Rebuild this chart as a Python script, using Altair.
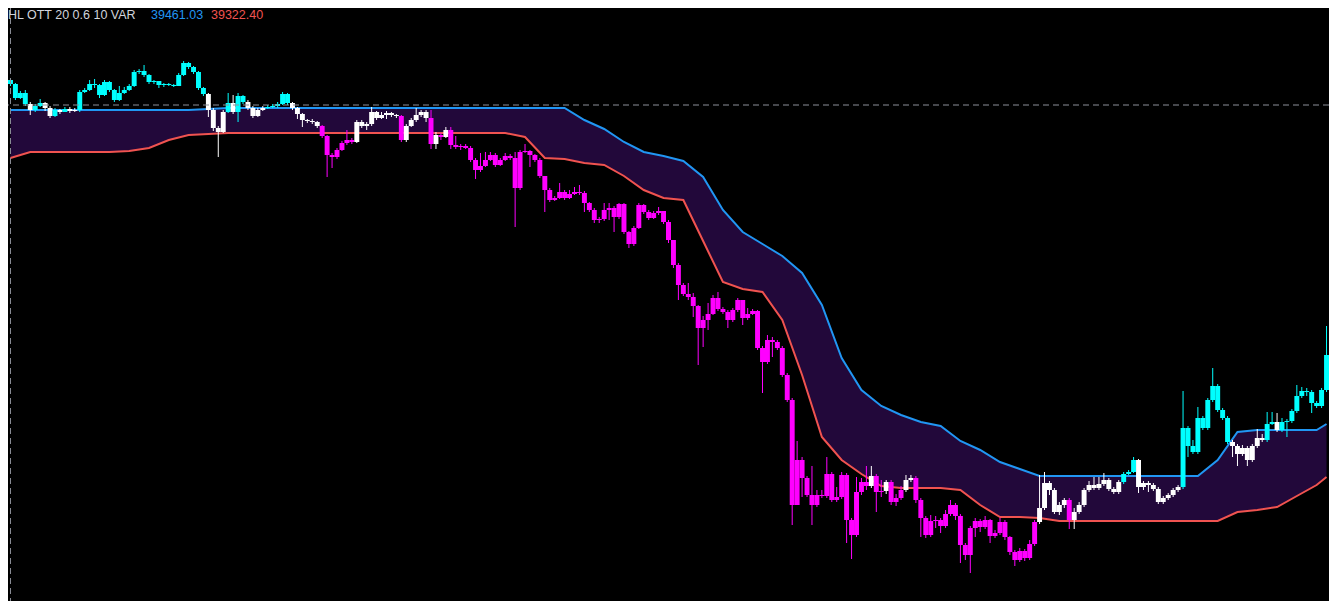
import altair as alt
import pandas as pd

TITLE = "HL OTT 20 0.6 10 VAR"
UPPER_LABEL = "39461.03"
LOWER_LABEL = "39322.40"

FIRST_OPEN = 39551

CLOSE = [
    39539, 39497, 39512, 39479, 39461, 39473, 39482, 39467, 39443, 39461,
    39455, 39464, 39458, 39461, 39515, 39521, 39539, 39536, 39506, 39545,
    39521, 39491, 39512, 39521, 39533, 39575, 39578, 39566, 39545, 39548,
    39536, 39539, 39536, 39533, 39566, 39602, 39590, 39575, 39527, 39509,
    39461, 39407, 39395, 39455, 39482, 39455, 39503, 39485, 39467, 39443,
    39461, 39467, 39470, 39473, 39479, 39509, 39482, 39467, 39449, 39431,
    39428, 39425, 39413, 39383, 39326, 39320, 39341, 39362, 39371, 39365,
    39425, 39413, 39419, 39455, 39437, 39446, 39452, 39446, 39443, 39371,
    39413, 39431, 39446, 39455, 39437, 39359, 39386, 39380, 39401, 39356,
    39350, 39353, 39347, 39311, 39281, 39293, 39311, 39326, 39296, 39311,
    39323, 39317, 39227, 39335, 39338, 39326, 39311, 39263, 39221, 39191,
    39197, 39215, 39197, 39209, 39215, 39212, 39182, 39161, 39131, 39134,
    39161, 39167, 39140, 39179, 39095, 39059, 39107, 39176, 39155, 39137,
    39152, 39158, 39125, 39071, 38996, 38936, 38909, 38900, 38873, 38807,
    38831, 38849, 38897, 38864, 38855, 38831, 38861, 38891, 38837, 38849,
    38858, 38747, 38705, 38771, 38765, 38747, 38666, 38591, 38276, 38411,
    38357, 38306, 38276, 38306, 38303, 38369, 38291, 38300, 38366, 38231,
    38186, 38315, 38345, 38333, 38363, 38315, 38318, 38345, 38285, 38297,
    38321, 38351, 38357, 38291, 38237, 38186, 38228, 38231, 38213, 38249,
    38276, 38243, 38156, 38126, 38207, 38228, 38210, 38231, 38183, 38192,
    38225, 38180, 38135, 38111, 38138, 38117, 38159, 38225, 38267, 38342,
    38321, 38255, 38276, 38291, 38231, 38255, 38276, 38321, 38336, 38327,
    38339, 38351, 38324, 38315, 38345, 38369, 38375, 38411, 38330, 38342,
    38336, 38324, 38285, 38297, 38306, 38321, 38330, 38507, 38453, 38435,
    38537, 38507, 38591, 38633, 38561, 38537, 38465, 38453, 38429, 38447,
    38411, 38453, 38477, 38471, 38519, 38525, 38501, 38525, 38528, 38558,
    38603, 38618, 38615, 38582, 38573, 38621, 38726,
]

HIGH = [
    39557, 39542, 39518, 39521, 39485, 39479, 39494, 39485, 39473, 39467,
    39464, 39470, 39470, 39467, 39521, 39527, 39551, 39554, 39539, 39551,
    39548, 39524, 39533, 39530, 39539, 39581, 39584, 39596, 39569, 39551,
    39548, 39542, 39542, 39539, 39572, 39608, 39605, 39593, 39578, 39530,
    39512, 39467, 39413, 39461, 39512, 39506, 39512, 39506, 39491, 39473,
    39467, 39473, 39476, 39479, 39485, 39515, 39512, 39485, 39470, 39452,
    39434, 39434, 39428, 39416, 39386, 39332, 39347, 39368, 39401, 39377,
    39431, 39431, 39425, 39470, 39458, 39455, 39458, 39455, 39449, 39446,
    39419, 39437, 39467, 39461, 39461, 39461, 39395, 39392, 39410, 39410,
    39383, 39359, 39359, 39353, 39317, 39332, 39335, 39335, 39332, 39317,
    39332, 39329, 39335, 39341, 39359, 39341, 39329, 39317, 39233, 39227,
    39203, 39242, 39221, 39221, 39230, 39236, 39218, 39185, 39167, 39140,
    39182, 39182, 39173, 39182, 39182, 39098, 39113, 39182, 39179, 39161,
    39158, 39170, 39158, 39131, 39062, 39002, 38942, 38942, 38912, 38876,
    38843, 38882, 38906, 38915, 38870, 38861, 38867, 38897, 38891, 38867,
    38864, 38861, 38753, 38786, 38780, 38771, 38753, 38672, 38597, 38468,
    38420, 38363, 38393, 38321, 38321, 38420, 38375, 38330, 38375, 38372,
    38237, 38360, 38357, 38393, 38393, 38369, 38351, 38351, 38351, 38309,
    38333, 38366, 38366, 38363, 38297, 38243, 38246, 38243, 38237, 38261,
    38291, 38282, 38249, 38162, 38213, 38237, 38234, 38243, 38234, 38201,
    38237, 38231, 38183, 38141, 38147, 38144, 38171, 38231, 38366, 38375,
    38348, 38327, 38285, 38297, 38297, 38267, 38285, 38327, 38348, 38360,
    38360, 38372, 38357, 38330, 38351, 38375, 38381, 38420, 38414, 38348,
    38348, 38342, 38330, 38303, 38312, 38327, 38336, 38618, 38513, 38471,
    38570, 38543, 38597, 38687, 38639, 38567, 38543, 38471, 38459, 38456,
    38453, 38459, 38504, 38489, 38555, 38555, 38552, 38537, 38534, 38564,
    38636, 38630, 38627, 38621, 38588, 38627, 38813,
]

LOW = [
    39533, 39491, 39494, 39473, 39446, 39455, 39470, 39458, 39437, 39440,
    39449, 39455, 39452, 39455, 39455, 39512, 39518, 39527, 39497, 39503,
    39515, 39485, 39488, 39509, 39518, 39530, 39569, 39560, 39539, 39539,
    39527, 39530, 39533, 39530, 39533, 39563, 39584, 39569, 39521, 39503,
    39440, 39398, 39320, 39392, 39452, 39449, 39425, 39479, 39461, 39437,
    39440, 39458, 39464, 39467, 39467, 39476, 39476, 39461, 39434, 39410,
    39422, 39419, 39407, 39377, 39260, 39287, 39314, 39338, 39356, 39359,
    39362, 39407, 39401, 39413, 39431, 39434, 39434, 39440, 39437, 39365,
    39365, 39410, 39425, 39440, 39425, 39344, 39344, 39371, 39377, 39344,
    39344, 39341, 39344, 39305, 39254, 39275, 39290, 39308, 39290, 39293,
    39308, 39311, 39110, 39221, 39332, 39290, 39305, 39257, 39155, 39185,
    39188, 39194, 39191, 39194, 39206, 39206, 39155, 39155, 39122, 39122,
    39128, 39131, 39095, 39134, 39089, 39047, 39053, 39104, 39149, 39131,
    39134, 39146, 39119, 39062, 38987, 38891, 38903, 38891, 38840, 38696,
    38750, 38801, 38846, 38858, 38849, 38807, 38825, 38855, 38816, 38831,
    38846, 38741, 38612, 38699, 38720, 38741, 38660, 38585, 38216, 38330,
    38300, 38300, 38216, 38270, 38297, 38297, 38285, 38285, 38294, 38162,
    38114, 38180, 38306, 38321, 38327, 38255, 38300, 38309, 38276, 38273,
    38291, 38315, 38345, 38282, 38180, 38177, 38180, 38207, 38192, 38207,
    38243, 38231, 38102, 38111, 38072, 38180, 38195, 38204, 38162, 38177,
    38186, 38171, 38126, 38093, 38105, 38108, 38111, 38153, 38219, 38261,
    38306, 38249, 38246, 38267, 38204, 38204, 38249, 38270, 38315, 38321,
    38321, 38333, 38318, 38309, 38309, 38339, 38366, 38372, 38312, 38321,
    38315, 38318, 38279, 38279, 38291, 38300, 38315, 38324, 38420, 38429,
    38429, 38501, 38501, 38585, 38555, 38531, 38459, 38420, 38393, 38423,
    38393, 38405, 38447, 38465, 38465, 38516, 38495, 38495, 38480, 38522,
    38552, 38597, 38603, 38552, 38567, 38567, 38615,
]

# c = above upper band (cyan), m = below lower band (magenta), w = inside (white)
COLOR_CODES = (
    "ccccwccwwc" "wcwwcccccc" "cccccccccc" "cccccccccc" "wwwwcwccww"
    "wwcccccwww" "wwwmmmmmmm" "wwwwwwwwwm" "wwwwwmwmwm" "mmmmmmmmmm"
    "mmmmmmmmmm" "mmmmmmmmmm" "mmmmmmmmmm" "mmmmmmmmmm" "mmmmmmmmmm"
    "mmmmmmmmmm" "mmmmmmmmmm" "mmmmwmmwmm" "mwwmmmmmmm" "mmmmmmmmmm"
    "mmmmmmmmww" "wwwwmwwwww" "wwwwwcccww" "wwwwwwwccc" "cccccccwww"
    "wwwwccwccc" "ccccccc"
)

BAND_IDX = list(range(0, 265, 4)) + [266]

UPPER = [
    39461, 39461, 39461, 39461, 39461, 39461, 39461, 39461, 39461, 39461,
    39464, 39467, 39467, 39467, 39467, 39467, 39467, 39467, 39467, 39467,
    39467, 39467, 39467, 39467, 39467, 39467, 39467, 39467, 39467, 39431,
    39404, 39365, 39335, 39323, 39308, 39260, 39161, 39095, 39059, 39023,
    38972, 38876, 38717, 38621, 38573, 38546, 38525, 38513, 38468, 38441,
    38405, 38384, 38363, 38363, 38363, 38363, 38363, 38363, 38363, 38363,
    38363, 38411, 38495, 38501, 38501, 38501, 38501, 38519,
]

LOWER = [
    39317, 39335, 39335, 39335, 39335, 39335, 39338, 39347, 39371, 39386,
    39389, 39392, 39392, 39392, 39392, 39392, 39392, 39392, 39392, 39392,
    39392, 39392, 39392, 39392, 39392, 39392, 39380, 39317, 39314, 39302,
    39296, 39263, 39221, 39197, 39191, 39068, 38945, 38924, 38915, 38831,
    38666, 38480, 38411, 38369, 38333, 38327, 38327, 38327, 38321, 38276,
    38240, 38240, 38237, 38228, 38228, 38228, 38228, 38228, 38228, 38228,
    38228, 38228, 38255, 38261, 38270, 38303, 38336, 38360,
]

CROSS_PRICE = 39476
CROSS_INDEX = 0

n = len(CLOSE)
opens = [FIRST_OPEN] + CLOSE[:-1]
candles = pd.DataFrame({
    "i": list(range(n)),
    "open": opens,
    "close": CLOSE,
    "high": [max(h, o, c) for h, o, c in zip(HIGH, opens, CLOSE)],
    "low": [min(l, o, c) for l, o, c in zip(LOW, opens, CLOSE)],
    "kind": list(COLOR_CODES),
})
candles["x0"] = candles["i"] - 0.5
candles["x1"] = candles["i"] + 0.5

bands = pd.DataFrame({"i": BAND_IDX, "upper": UPPER, "lower": LOWER})

XS = alt.Scale(domain=[-0.5, 266.5], nice=False, zero=False)
YS = alt.Scale(domain=[37988, 39767], nice=False, zero=False)
CS = alt.Scale(domain=["c", "m", "w"], range=["#00ffff", "#ff00ff", "#ffffff"])

bx = alt.X("i:Q", scale=XS, axis=None)

area = alt.Chart(bands).mark_area(color="#22083a", opacity=1).encode(
    x=bx, y=alt.Y("upper:Q", scale=YS, axis=None), y2="lower:Q"
)
up_line = alt.Chart(bands).mark_line(color="#2196f3", strokeWidth=2).encode(
    x=bx, y=alt.Y("upper:Q", scale=YS, axis=None)
)
lo_line = alt.Chart(bands).mark_line(color="#f05350", strokeWidth=2).encode(
    x=bx, y=alt.Y("lower:Q", scale=YS, axis=None)
)

wicks = alt.Chart(candles).mark_rule(strokeWidth=1).encode(
    x=alt.X("i:Q", scale=XS, axis=None),
    y=alt.Y("low:Q", scale=YS, axis=None),
    y2="high:Q",
    color=alt.Color("kind:N", scale=CS, legend=None),
)
bodies = alt.Chart(candles).mark_bar(strokeWidth=0).encode(
    x=alt.X("x0:Q", scale=XS, axis=None),
    x2="x1:Q",
    y=alt.Y("open:Q", scale=YS, axis=None),
    y2="close:Q",
    color=alt.Color("kind:N", scale=CS, legend=None),
)

cross_h = alt.Chart(pd.DataFrame({"p": [CROSS_PRICE]})).mark_rule(
    color="#8c8f99", strokeDash=[6, 4], strokeWidth=1
).encode(y=alt.Y("p:Q", scale=YS, axis=None))
cross_v = alt.Chart(pd.DataFrame({"q": [CROSS_INDEX]})).mark_rule(
    color="#8c8f99", strokeDash=[6, 4], strokeWidth=1
).encode(x=alt.X("q:Q", scale=XS, axis=None))

FONT = "Liberation Sans"
t1 = alt.Chart(pd.DataFrame({"t": [TITLE]})).mark_text(
    align="left", baseline="middle", font=FONT, fontSize=12.5, color="#d1d4dc"
).encode(x=alt.value(0), y=alt.value(7), text="t:N")
t2 = alt.Chart(pd.DataFrame({"t": [UPPER_LABEL]})).mark_text(
    align="left", baseline="middle", font=FONT, fontSize=12.5, color="#2196f3"
).encode(x=alt.value(143), y=alt.value(7), text="t:N")
t3 = alt.Chart(pd.DataFrame({"t": [LOWER_LABEL]})).mark_text(
    align="left", baseline="middle", font=FONT, fontSize=12.5, color="#f05350"
).encode(x=alt.value(203), y=alt.value(7), text="t:N")

chart = alt.layer(
    area, up_line, lo_line, wicks, bodies, cross_h, cross_v, t1, t2, t3
).properties(
    width=1321,
    height=593,
    autosize=alt.AutoSizeParams(type="none"),
    padding=0,
    background="#000000",
).configure_view(strokeWidth=0)

chart.save("out.html", embed_options={"renderer": "svg", "actions": False})
